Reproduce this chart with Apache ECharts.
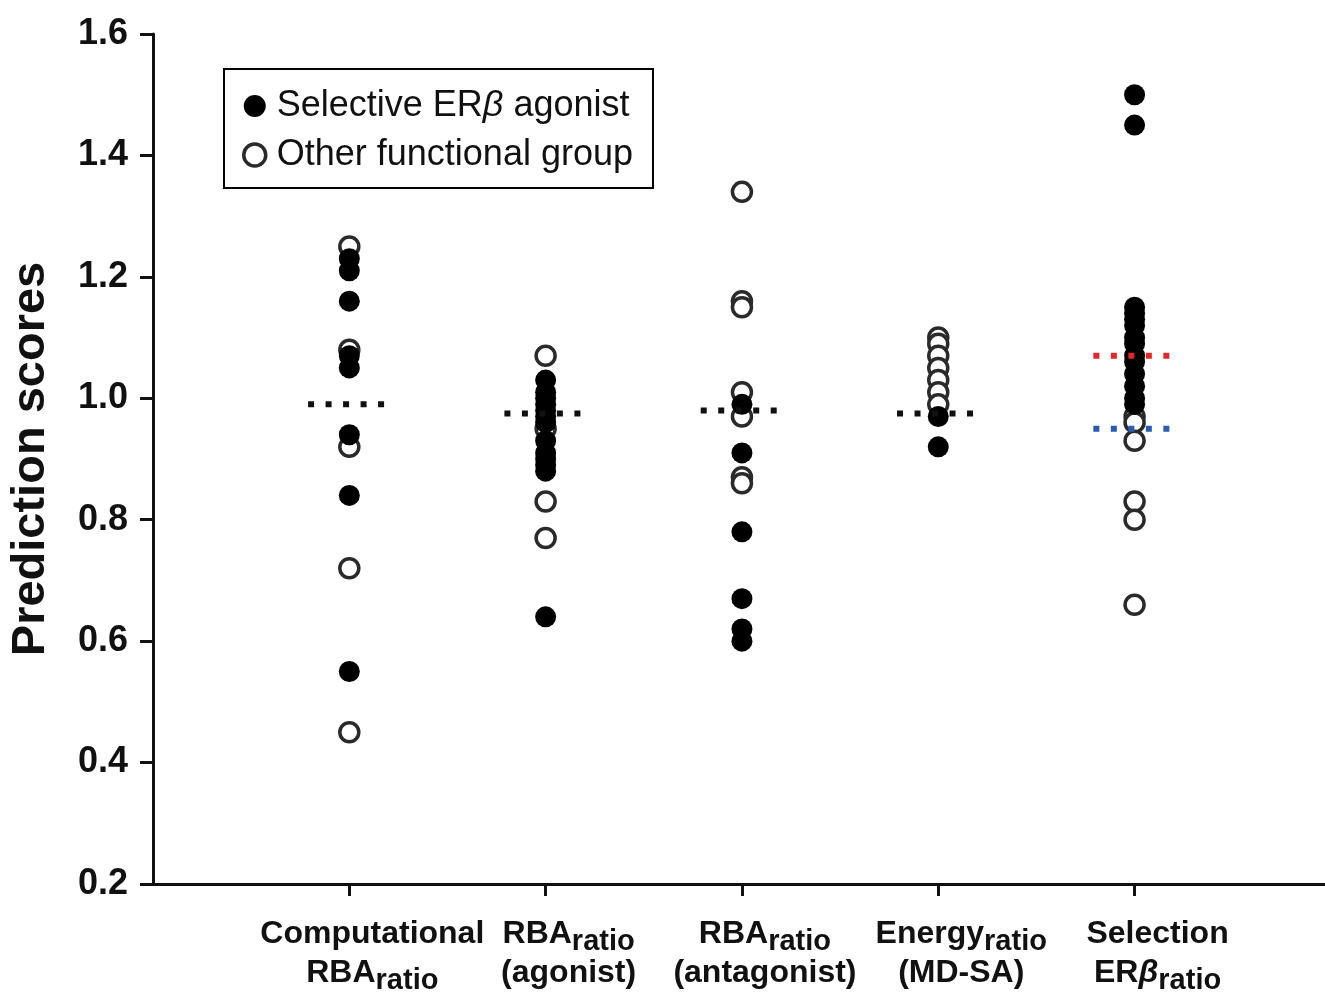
<!DOCTYPE html>
<html>
<head>
<meta charset="utf-8">
<script src="https://cdn.jsdelivr.net/npm/echarts@6/dist/echarts.min.js"></script>
<style>
  html, body { margin: 0; padding: 0; background: #fff; }
  #chart { width: 1325px; height: 998px; }
</style>
</head>
<body>
<div id="chart"></div>
<script>
// x positions 1..5, one per method
const categories = [
  '{b|Computational}\n{b|RBA}{s|ratio}',
  '{b|RBA}{s|ratio}\n{b|(agonist)}',
  '{b|RBA}{s|ratio}\n{b|(antagonist)}',
  '{b|Energy}{s|ratio}\n{b|(MD-SA)}',
  '{b|Selection}\n{b|ER}{bi|β}{s|ratio}'
]

// selective ERβ agonists (filled)
const filledValues = [
  [1.23, 1.21, 1.16, 1.07, 1.05, 0.94, 0.84, 0.55],
  [1.03, 1.01, 1.00, 0.99, 0.98, 0.97, 0.96, 0.93, 0.91, 0.90, 0.89, 0.88, 0.64],
  [0.99, 0.91, 0.78, 0.67, 0.62, 0.60],
  [0.97, 0.92],
  [1.50, 1.45, 1.15, 1.14, 1.13, 1.12, 1.10, 1.09, 1.07, 1.06, 1.04, 1.02, 1.00, 0.99]
]

// other functional group (open)
const openValues = [
  [1.25, 1.08, 0.92, 0.72, 0.45],
  [1.07, 0.95, 0.83, 0.77],
  [1.34, 1.16, 1.15, 1.01, 0.97, 0.87, 0.86],
  [1.10, 1.09, 1.07, 1.05, 1.03, 1.01, 0.99],
  [0.97, 0.96, 0.93, 0.83, 0.80, 0.66]
]

// dotted reference lines: [column, value, colour]
const refLines = [
  [1, 0.99, '#111'],
  [2, 0.975, '#111'],
  [3, 0.98, '#111'],
  [4, 0.975, '#111'],
  [5, 1.07, '#e3262b'],
  [5, 0.95, '#2b5cb4']
]

const yTicks = [0.2, 0.4, 0.6, 0.8, 1.0, 1.2, 1.4, 1.6]

const toPoints = (cols) => cols.flatMap((arr, i) => arr.map(v => [i + 1, v]))

const lineSeries = refLines.map(([c, v, color]) => ({
  type: 'line',
  silent: true,
  symbol: 'none',
  z: 5,
  data: [[c - 0.21, v], [c + 0.18, v]],
  lineStyle: { color: color, width: 6, type: [6, 11.5], cap: 'butt' }
}))

const openStyle = { color: '#fff', borderColor: '#2a2a2a', borderWidth: 3.5, opacity: 1 }
const filledStyle = { color: '#000', opacity: 1 }

const chart = echarts.init(document.getElementById('chart'))

chart.setOption({
  animation: false,
  backgroundColor: '#fff',
  textStyle: { fontFamily: 'Liberation Sans, Arial, sans-serif' },
  grid: { left: 153, top: 34, right: 0, bottom: 114 },
  legend: {
    left: 224,
    top: 69,
    orient: 'vertical',
    padding: [19, 20, 15, 18],
    itemGap: 13,
    itemWidth: 22,
    itemHeight: 22,
    borderColor: '#000',
    borderWidth: 2,
    data: [
      { name: 'Selective ERβ agonist', itemStyle: filledStyle },
      { name: 'Other functional group', itemStyle: { color: '#fff', borderColor: '#2a2a2a', borderWidth: 3.5 } }
    ],
    formatter: (name) => name === 'Selective ERβ agonist'
      ? '{n|Selective ER}{i|β}{n| agonist}'
      : '{n|' + name + '}',
    textStyle: {
      padding: [0, 0, 0, 6],
      rich: {
        n: { fontSize: 36, color: '#111', lineHeight: 40 },
        i: { fontSize: 36, color: '#111', fontStyle: 'italic', lineHeight: 40 }
      }
    }
  },
  xAxis: {
    type: 'value',
    min: 0,
    max: 5.97,
    interval: 1,
    splitLine: { show: false },
    axisLine: { lineStyle: { color: '#111', width: 3 } },
    axisTick: {
      customValues: [1, 2, 3, 4, 5],
      length: 12,
      lineStyle: { color: '#111', width: 3 }
    },
    axisLabel: {
      customValues: [1, 2, 3, 4, 5],
      margin: 31,
      padding: [0, 0, 0, 46],
      formatter: (v) => categories[Math.round(v) - 1] || '',
      rich: {
        b: { fontSize: 32, fontWeight: 'bold', color: '#111', lineHeight: 39 },
        bi: { fontSize: 32, fontWeight: 'bold', fontStyle: 'italic', color: '#111', lineHeight: 39 },
        s: { fontSize: 29, fontWeight: 'bold', color: '#111', lineHeight: 39, padding: [15, 0, 0, 0] }
      }
    }
  },
  yAxis: {
    type: 'value',
    min: 0.2,
    max: 1.6,
    interval: 0.2,
    name: 'Prediction scores',
    nameLocation: 'middle',
    nameGap: 98,
    nameTextStyle: { fontSize: 47, fontWeight: 'bold', color: '#111' },
    splitLine: { show: false },
    axisLine: { show: true, lineStyle: { color: '#111', width: 3 } },
    axisTick: { show: true, length: 13, lineStyle: { color: '#111', width: 3 } },
    axisLabel: {
      margin: 25,
      fontSize: 36,
      fontWeight: 'bold',
      color: '#111',
      formatter: (v) => yTicks.includes(+v.toFixed(1)) ? v.toFixed(1) : ''
    }
  },
  series: [
    {
      name: 'Other functional group',
      type: 'scatter',
      symbol: 'circle',
      symbolSize: 19,
      z: 3,
      itemStyle: openStyle,
      data: toPoints(openValues)
    },
    {
      name: 'Selective ERβ agonist',
      type: 'scatter',
      symbol: 'circle',
      symbolSize: 21,
      z: 4,
      itemStyle: filledStyle,
      data: toPoints(filledValues)
    },
    ...lineSeries
  ]
})
</script>
</body>
</html>
